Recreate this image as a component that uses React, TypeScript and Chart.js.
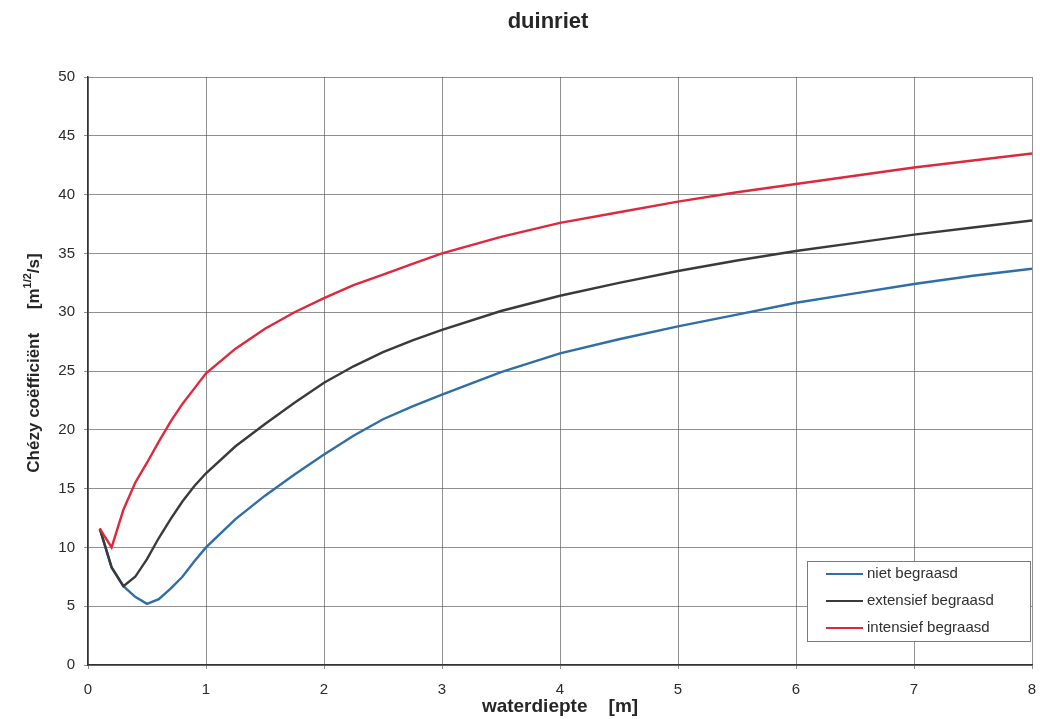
import React, { useEffect, useRef } from "react";
import { Chart, registerables } from "chart.js";

Chart.register(...registerables);

// Water depth (m) at which the Chézy coefficient was evaluated
const depth = [
  0.1, 0.2, 0.3, 0.4, 0.5, 0.6, 0.7, 0.8, 0.9, 1.0,
  1.25, 1.5, 1.75, 2.0, 2.25, 2.5, 2.75, 3.0, 3.5, 4.0,
  4.5, 5.0, 5.5, 6.0, 6.5, 7.0, 7.5, 8.0,
];

// Chézy coefficient (m^1/2/s) per grazing regime
const nietBegraasd = [
  11.6, 8.3, 6.7, 5.8, 5.2, 5.6, 6.5, 7.5, 8.8, 10.0,
  12.4, 14.4, 16.2, 17.9, 19.5, 20.9, 22.0, 23.0, 24.9, 26.5,
  27.7, 28.8, 29.8, 30.8, 31.6, 32.4, 33.1, 33.7,
];
const extensiefBegraasd = [
  11.6, 8.3, 6.7, 7.5, 9.0, 10.8, 12.4, 13.9, 15.2, 16.3,
  18.6, 20.5, 22.3, 24.0, 25.4, 26.6, 27.6, 28.5, 30.1, 31.4,
  32.5, 33.5, 34.4, 35.2, 35.9, 36.6, 37.2, 37.8,
];
const intensiefBegraasd = [
  11.6, 10.0, 13.2, 15.5, 17.2, 19.0, 20.7, 22.2, 23.5, 24.8,
  26.9, 28.6, 30.0, 31.2, 32.3, 33.2, 34.1, 35.0, 36.4, 37.6,
  38.5, 39.4, 40.2, 40.9, 41.6, 42.3, 42.9, 43.5,
];

const seriesLabels = ["niet begraasd", "extensief begraasd", "intensief begraasd"];
const seriesValues = [nietBegraasd, extensiefBegraasd, intensiefBegraasd];
const seriesColors = ["#2f6ea6", "#3a3a3a", "#e0283c"];
// lower value is drawn on top
const seriesOrder = [2, 1, 0];

const chartTitle = "duinriet";
const xTitle = "waterdiepte    [m]";
const yTitleMain = "Chézy coëfficiënt     [m";
const yTitleSup = "1/2";
const yTitleEnd = "/s]";

const FONT = "'Liberation Sans', Arial, sans-serif";
const TEXT = "#262626";

// Draws the chart title, axis titles and the boxed legend inside the plot
const decorations = {
  id: "decorations",
  afterDraw(chart: any) {
    const ctx = chart.ctx as CanvasRenderingContext2D;
    const area = chart.chartArea;
    ctx.save();
    ctx.fillStyle = TEXT;

    // main title
    ctx.font = `bold 22px ${FONT}`;
    ctx.textAlign = "center";
    ctx.textBaseline = "middle";
    ctx.fillText(chartTitle, 548, 22);

    // x-axis title
    ctx.font = `bold 19px ${FONT}`;
    ctx.fillText(xTitle, (area.left + area.right) / 2, 707);

    // y-axis title with superscript exponent
    ctx.save();
    ctx.translate(33, (area.top + area.bottom) / 2 - 8);
    ctx.rotate(-Math.PI / 2);
    ctx.textAlign = "left";
    ctx.textBaseline = "alphabetic";
    const mainFont = `bold 17px ${FONT}`;
    const supFont = `bold 11px ${FONT}`;
    ctx.font = mainFont;
    const w1 = ctx.measureText(yTitleMain).width;
    const w3 = ctx.measureText(yTitleEnd).width;
    ctx.font = supFont;
    const w2 = ctx.measureText(yTitleSup).width;
    let x = -(w1 + w2 + w3) / 2;
    const base = 6;
    ctx.font = mainFont;
    ctx.fillText(yTitleMain, x, base);
    x += w1;
    ctx.font = supFont;
    ctx.fillText(yTitleSup, x, base - 8);
    x += w2;
    ctx.font = mainFont;
    ctx.fillText(yTitleEnd, x, base);
    ctx.restore();

    // legend box
    const bx = 807, by = 561, bw = 223, bh = 80;
    ctx.fillStyle = "#ffffff";
    ctx.fillRect(bx, by, bw, bh);
    ctx.strokeStyle = "#7a7a7a";
    ctx.lineWidth = 1;
    ctx.strokeRect(bx + 0.5, by + 0.5, bw, bh);
    ctx.font = `15px ${FONT}`;
    ctx.textAlign = "left";
    ctx.textBaseline = "middle";
    chart.data.datasets.forEach((ds: any, i: number) => {
      const ry = by + 13 + i * 27;
      ctx.strokeStyle = ds.borderColor;
      ctx.lineWidth = 2.2;
      ctx.beginPath();
      ctx.moveTo(826, ry);
      ctx.lineTo(863, ry);
      ctx.stroke();
      ctx.fillStyle = "#303030";
      ctx.fillText(ds.label, 867, ry);
    });
    ctx.restore();
  },
};

export default function App() {
  const canvasRef = useRef<HTMLCanvasElement | null>(null);

  useEffect(() => {
    const canvas = canvasRef.current;
    if (!canvas) return;
    const chart = new Chart(canvas, {
      type: "line",
      data: {
        datasets: seriesValues.map((vals, i) => ({
          label: seriesLabels[i],
          data: depth.map((d, j) => ({ x: d, y: vals[j] })),
          borderColor: seriesColors[i],
          backgroundColor: seriesColors[i],
          borderWidth: 2.4,
          pointRadius: 0,
          tension: 0,
          fill: false,
          order: seriesOrder[i],
        })),
      },
      options: {
        responsive: false,
        animation: false,
        layout: { padding: { top: 77, right: 8, left: 0, bottom: 0 } },
        plugins: {
          legend: { display: false },
          tooltip: { enabled: false },
          title: { display: false },
        },
        scales: {
          x: {
            type: "linear",
            min: 0,
            max: 8,
            afterFit: (scale: any) => {
              scale.height = 54;
              scale.paddingRight = 0;
            },
            ticks: {
              stepSize: 1,
              padding: 12,
              color: "#2a2a2a",
              font: { family: FONT, size: 15 },
            },
            grid: {
              color: "rgba(70,70,70,0.6)",
              lineWidth: 1,
              tickLength: 4,
            },
            border: { color: "#333333", width: 1.5 },
          },
          y: {
            type: "linear",
            min: 0,
            max: 50,
            afterFit: (scale: any) => {
              scale.width = 88;
            },
            ticks: {
              stepSize: 5,
              padding: 9,
              color: "#2a2a2a",
              font: { family: FONT, size: 15 },
            },
            grid: {
              color: "rgba(70,70,70,0.6)",
              lineWidth: 1,
              tickLength: 4,
            },
            border: { color: "#333333", width: 1.5 },
          },
        },
      },
      plugins: [decorations],
    });
    return () => chart.destroy();
  }, []);

  return (
    <div
      style={{
        position: "fixed",
        left: 0,
        top: 0,
        width: 1040,
        height: 719,
        background: "#ffffff",
      }}
    >
      <canvas ref={canvasRef} width={1040} height={719} />
    </div>
  );
}
